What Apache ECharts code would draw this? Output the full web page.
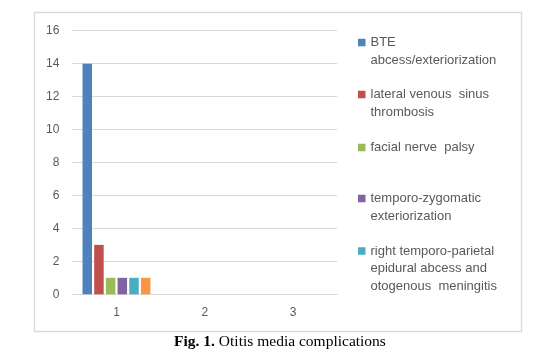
<!DOCTYPE html>
<html>
<head>
<meta charset="utf-8">
<script src="https://cdn.jsdelivr.net/npm/echarts@6/dist/echarts.min.js"></script>
<style>
html,body{margin:0;padding:0;background:#fff;}
#c{width:553px;height:361px;}
</style>
</head>
<body>
<div id="c"></div>
<script>
// ---- data ----
const categories = ['1', '2', '3'];
const seriesNames = [
  'BTE abcess/exteriorization',
  'lateral venous sinus thrombosis',
  'facial nerve palsy',
  'temporo-zygomatic exteriorization',
  'right temporo-parietal epidural abcess and otogenous meningitis',
  'otogenous meningitis'
];
const legendLines = [
  ['BTE', 'abcess/exteriorization'],
  ['lateral venous  sinus', 'thrombosis'],
  ['facial nerve  palsy'],
  ['temporo-zygomatic', 'exteriorization'],
  ['right temporo-parietal', 'epidural abcess and', 'otogenous  meningitis']
];
const seriesValues = [
  [14, 0, 0],
  [3, 0, 0],
  [1, 0, 0],
  [1, 0, 0],
  [1, 0, 0],
  [1, 0, 0]
];
const yTicks = [0, 2, 4, 6, 8, 10, 12, 14, 16];
const captionBold = 'Fig. 1.';
const captionText = ' Otitis media complications';

// ---- styles ----
const colors = ['#4F81BD', '#C0504D', '#9BBB59', '#8064A2', '#4BACC6', '#F79646'];
const textColor = '#595959';
const gridColor = '#D9D9D9';
const font = '"Liberation Sans", Arial, sans-serif';
const LH = 17.5;
const legendCenters = [42.5, 94.5, 147.5, 198.5, 251];

const chart = echarts.init(document.getElementById('c'), null, {renderer: 'canvas'});

const legends = legendLines.map((lines, i) => {
  const n = lines.length;
  return {
    show: true,
    orient: 'vertical',
    left: 358,
    top: legendCenters[i] - (2 * n - 1) * LH / 2,
    padding: 0,
    itemWidth: 7.5,
    itemHeight: 7.5,
    icon: 'rect',
    selectedMode: false,
    data: [seriesNames[i]],
    formatter: () => '\n'.repeat(n - 1) + lines.join('\n'),
    textStyle: {
      color: textColor,
      fontFamily: font,
      fontSize: 13,
      lineHeight: LH
    }
  };
});

const series = seriesValues.map((vals, i) => ({
  name: seriesNames[i],
  type: 'bar',
  data: vals,
  barWidth: 9.5,
  barGap: '23%',
  itemStyle: {color: colors[i]},
  silent: true
}));

chart.setOption({
  backgroundColor: '#ffffff',
  animation: false,
  color: colors,
  grid: {left: 72.3, right: 215.7, top: 30.7, bottom: 66.7, containLabel: false},
  legend: legends,
  xAxis: {
    type: 'category',
    data: categories,
    axisTick: {show: false},
    axisLine: {show: true, lineStyle: {color: gridColor, width: 1}},
    axisLabel: {color: textColor, fontFamily: font, fontSize: 12, margin: 12}
  },
  yAxis: {
    type: 'value',
    min: yTicks[0],
    max: yTicks[yTicks.length - 1],
    interval: yTicks[1] - yTicks[0],
    axisLine: {show: false},
    axisTick: {show: false},
    splitLine: {lineStyle: {color: gridColor, width: 1}},
    axisLabel: {color: textColor, fontFamily: font, fontSize: 12, margin: 13}
  },
  series: series,
  graphic: [
    {
      type: 'rect',
      shape: {x: 34.5, y: 12.5, width: 487, height: 319},
      style: {fill: 'none', stroke: gridColor, lineWidth: 1.3},
      silent: true,
      z: -1
    },
    {
      type: 'text',
      x: 280,
      y: 342,
      style: {
        text: '{b|' + captionBold + '}{n|' + captionText + '}',
        align: 'center',
        verticalAlign: 'middle',
        rich: {
          b: {fontFamily: '"Liberation Serif", "Times New Roman", serif', fontWeight: 'bold', fontSize: 15.5, fill: '#000'},
          n: {fontFamily: '"Liberation Serif", "Times New Roman", serif', fontSize: 15.5, fill: '#000'}
        }
      }
    }
  ]
});
</script>
</body>
</html>
